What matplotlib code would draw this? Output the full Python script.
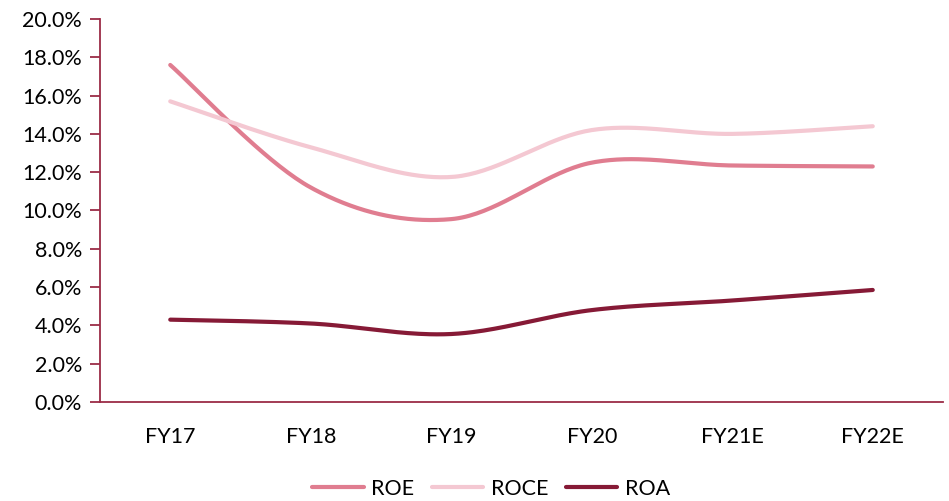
import matplotlib
matplotlib.use("Agg")
from matplotlib import pyplot as plt
from matplotlib.ticker import FuncFormatter
import numpy as np

years = ["FY17", "FY18", "FY19", "FY20", "FY21E", "FY22E"]
roe = [17.6, 11.2, 9.55, 12.5, 12.35, 12.3]
roce = [15.7, 13.3, 11.75, 14.2, 14.0, 14.4]
roa = [4.3, 4.1, 3.55, 4.8, 5.3, 5.85]

plt.rcParams['font.family'] = ['Lato', 'DejaVu Sans']

AXIS_COLOR = '#9B2C47'


def smooth(xs, ys, n=40):
    # Excel-style smoothed line: Bezier segments with Catmull-Rom control points
    xs = np.asarray(xs, dtype=float)
    ys = np.asarray(ys, dtype=float)
    px = np.concatenate([[xs[0]], xs, [xs[-1]]])
    py = np.concatenate([[ys[0]], ys, [ys[-1]]])
    out_x, out_y = [], []
    t = np.linspace(0, 1, n)
    for i in range(1, len(px) - 2):
        p0 = np.array([px[i], py[i]])
        p3 = np.array([px[i + 1], py[i + 1]])
        c1 = p0 + (np.array([px[i + 1], py[i + 1]]) - np.array([px[i - 1], py[i - 1]])) / 6
        c2 = p3 - (np.array([px[i + 2], py[i + 2]]) - np.array([px[i], py[i]])) / 6
        b = ((1 - t) ** 3)[:, None] * p0 + (3 * (1 - t) ** 2 * t)[:, None] * c1 \
            + (3 * (1 - t) * t ** 2)[:, None] * c2 + (t ** 3)[:, None] * p3
        out_x.extend(b[:, 0])
        out_y.extend(b[:, 1])
    return out_x, out_y


fig = plt.figure(figsize=(9.49, 5.01), dpi=100)
ax = fig.add_axes([100 / 949, 99 / 501, 843 / 949, 383 / 501])

x = np.arange(len(years))
series = [("ROE", roe, '#E07D90'), ("ROCE", roce, '#F4C8D2'), ("ROA", roa, '#861A36')]
for name, vals, col in series:
    sx, sy = smooth(x, vals)
    ax.plot(sx, sy, color=col, linewidth=3, solid_capstyle='round', label=name)

ax.set_xlim(-0.5, len(years) - 0.5)
ax.set_ylim(0, 20)
ax.set_yticks(np.arange(0, 20.1, 2))
ax.yaxis.set_major_formatter(FuncFormatter(lambda v, p: f"{v:.1f}%"))
ax.set_xticks(x)
ax.set_xticklabels(years)

for s in ['top', 'right']:
    ax.spines[s].set_visible(False)
for s in ['left', 'bottom']:
    ax.spines[s].set_color(AXIS_COLOR)
    ax.spines[s].set_linewidth(1.3)

ax.tick_params(axis='y', colors=AXIS_COLOR, length=7, width=1.3, labelsize=15.5,
               labelcolor='black', pad=6)
ax.tick_params(axis='x', length=0, labelsize=15.5, labelcolor='black', pad=18)

ax.legend(loc='upper center', bbox_to_anchor=(0.464, -0.15), ncol=3, frameon=False,
          fontsize=15.5, handlelength=2.4, columnspacing=0.8, handletextpad=0.35)

fig.savefig("out.png", dpi=100)
